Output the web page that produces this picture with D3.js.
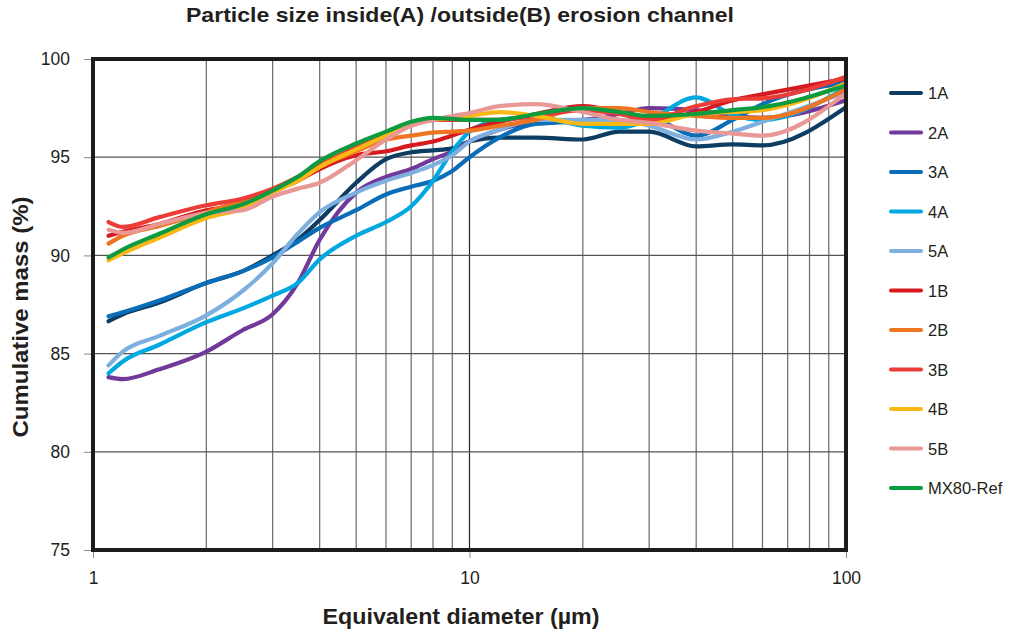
<!DOCTYPE html>
<html>
<head>
<meta charset="utf-8">
<script src="https://cdn.jsdelivr.net/npm/d3@7"></script>
<style>
  html, body { margin: 0; padding: 0; background: #fff; }
  svg { display: block; font-family: "Liberation Sans", Arial, sans-serif; }
</style>
</head>
<body>
<svg id="chart" width="1011" height="630"></svg>
<script>
// Particle sizes (µm) at which cumulative mass was sampled
const sizes = [1.1, 1.2, 1.5, 2, 2.5, 3, 3.5, 4, 5, 6, 7, 8, 9, 10, 12, 15, 20, 25, 30, 40, 50, 60, 100];

// Cumulative mass (%) per sample
const s1A  = [86.65, 87.0, 87.6, 88.6, 89.2, 90.0, 90.8, 91.8, 93.7, 94.9, 95.25, 95.35, 95.45, 95.8, 96.0, 96.0, 95.9, 96.3, 96.3, 95.55, 95.65, 95.6, 97.55];
const s2A  = [83.8, 83.7, 84.2, 85.1, 86.2, 87.0, 88.6, 90.8, 93.2, 94.0, 94.4, 94.9, 95.3, 95.8, 96.4, 96.8, 96.9, 97.2, 97.5, 97.4, 97.1, 97.0, 97.9];
const s3A  = [86.9, 87.1, 87.7, 88.6, 89.2, 89.9, 90.7, 91.4, 92.3, 93.1, 93.5, 93.8, 94.3, 95.0, 96.0, 96.7, 96.8, 96.8, 97.0, 96.1, 96.9, 97.7, 98.8];
const s4A  = [84.0, 84.6, 85.45, 86.6, 87.3, 87.95, 88.6, 89.8, 91.0, 91.7, 92.5, 93.8, 95.3, 96.3, 96.9, 97.05, 96.6, 96.5, 96.9, 98.05, 97.15, 96.9, 98.55];
const s5A  = [84.4, 85.1, 85.9, 86.95, 88.2, 89.6, 91.1, 92.2, 93.2, 93.8, 94.2, 94.6, 95.1, 95.8, 96.4, 96.9, 96.9, 96.9, 96.6, 95.9, 96.3, 96.8, 98.3];
const s1B  = [91.0, 91.2, 91.6, 92.3, 92.6, 93.3, 93.8, 94.4, 95.1, 95.3, 95.6, 95.8, 96.1, 96.4, 96.8, 97.2, 97.6, 97.3, 96.9, 97.3, 97.9, 98.2, 99.0];
const s2B  = [90.6, 91.0, 91.5, 92.2, 92.8, 93.3, 93.8, 94.5, 95.3, 95.9, 96.1, 96.25, 96.3, 96.35, 96.6, 96.9, 97.5, 97.5, 97.3, 97.1, 97.0, 97.0, 98.45];
const s3B  = [91.7, 91.45, 91.95, 92.55, 92.9, 93.4, 94.0, 94.6, 95.5, 96.2, 96.7, 96.9, 96.9, 96.9, 96.9, 97.1, 97.4, 97.2, 96.9, 97.6, 97.95, 98.0, 99.1];
const s4B  = [89.75, 90.1, 90.9, 91.9, 92.4, 93.2, 93.8, 94.5, 95.4, 96.1, 96.7, 96.9, 97.0, 97.1, 97.3, 97.1, 96.7, 96.7, 96.7, 97.2, 97.3, 97.4, 98.75];
const s5B  = [91.3, 91.15, 91.6, 92.15, 92.3, 93.0, 93.4, 93.7, 94.85, 95.9, 96.6, 96.9, 97.1, 97.25, 97.6, 97.7, 97.3, 96.9, 96.75, 96.35, 96.2, 96.1, 98.25];
const sMX  = [89.9, 90.3, 91.1, 92.1, 92.6, 93.3, 94.0, 94.8, 95.7, 96.3, 96.8, 97.0, 96.95, 96.9, 96.9, 97.2, 97.5, 97.3, 97.1, 97.2, 97.4, 97.55, 98.65];

const seriesNames = ["1A", "2A", "3A", "4A", "5A", "1B", "2B", "3B", "4B", "5B", "MX80-Ref"];
const seriesValues = [s1A, s2A, s3A, s4A, s5A, s1B, s2B, s3B, s4B, s5B, sMX];
const seriesColors = ["#0d3d62", "#70399a", "#0a6db8", "#00a8e1", "#7eb0df", "#d71a20", "#ee7521", "#ec3c37", "#fbb713", "#e99896", "#0d9b3f"];

const yTicks = [75, 80, 85, 90, 95, 100];
const xTicks = [1, 10, 100];
const xGrid = [2, 3, 4, 5, 6, 7, 8, 9, 10, 20, 30, 40, 50, 60, 70, 80, 90];

const svg = d3.select("#chart");
const plotLeft = 93, plotRight = 846, plotTop = 59, plotBottom = 550;

const x = d3.scaleLog().domain([1, 100]).range([plotLeft, plotRight]);
const y = d3.scaleLinear().domain([75, 100]).range([plotBottom, plotTop]);

// Title
svg.append("text")
  .attr("x", 460).attr("y", 22)
  .attr("text-anchor", "middle")
  .attr("font-size", 21).attr("font-weight", "bold").attr("fill", "#231f20")
  .attr("textLength", 548).attr("lengthAdjust", "spacingAndGlyphs")
  .text("Particle size inside(A) /outside(B) erosion channel");

// Gridlines
const grid = svg.append("g");
grid.selectAll("line.v").data(xGrid).join("line")
  .attr("x1", d => x(d)).attr("x2", d => x(d))
  .attr("y1", plotTop).attr("y2", plotBottom)
  .attr("stroke", d => (d === 10 ? "#222" : "#6a6a6a")).attr("stroke-width", 1.2);
grid.selectAll("line.h").data(yTicks.filter(d => d > 75 && d < 100)).join("line")
  .attr("x1", plotLeft).attr("x2", plotRight)
  .attr("y1", d => y(d)).attr("y2", d => y(d))
  .attr("stroke", "#555").attr("stroke-width", 1.2);

// Axes
const yAxis = svg.append("g").attr("transform", `translate(${plotLeft - 2},0)`)
  .call(d3.axisLeft(y).tickValues(yTicks).tickSize(7).tickPadding(14));
const xAxis = svg.append("g").attr("transform", `translate(0,${plotBottom + 2})`)
  .call(d3.axisBottom(x).tickValues(xTicks).tickFormat(d3.format("d")).tickSize(6).tickPadding(14));
[yAxis, xAxis].forEach(a => {
  a.select(".domain").remove();
  a.selectAll(".tick line").attr("stroke", "#888").attr("stroke-width", 1);
  a.selectAll(".tick text").attr("font-size", 17.5).attr("fill", "#231f20")
    .attr("font-family", "'Liberation Sans', Arial, sans-serif");
});

// Series lines
svg.append("clipPath").attr("id", "plotClip")
  .append("rect").attr("x", plotLeft).attr("y", plotTop)
  .attr("width", plotRight - plotLeft).attr("height", plotBottom - plotTop);

const line = d3.line()
  .x(d => x(d[0]))
  .y(d => y(d[1]))
  .curve(d3.curveMonotoneX);

const lines = svg.append("g").attr("clip-path", "url(#plotClip)");
seriesValues.forEach((vals, i) => {
  lines.append("path")
    .datum(sizes.map((s, j) => [s, vals[j]]))
    .attr("d", line)
    .attr("fill", "none")
    .attr("stroke", seriesColors[i])
    .attr("stroke-width", 4.2)
    .attr("stroke-linejoin", "round")
    .attr("stroke-linecap", "round");
});

// Plot frame
svg.append("rect")
  .attr("x", plotLeft).attr("y", plotTop)
  .attr("width", plotRight - plotLeft).attr("height", plotBottom - plotTop)
  .attr("fill", "none").attr("stroke", "#1c1c1c").attr("stroke-width", 4);

// Axis titles
svg.append("text")
  .attr("transform", "translate(28,317) rotate(-90)")
  .attr("text-anchor", "middle")
  .attr("font-size", 21.5).attr("font-weight", "bold").attr("fill", "#231f20")
  .attr("textLength", 241).attr("lengthAdjust", "spacingAndGlyphs")
  .text("Cumulative mass (%)");
svg.append("text")
  .attr("x", 461).attr("y", 624)
  .attr("text-anchor", "middle")
  .attr("font-size", 21.5).attr("font-weight", "bold").attr("fill", "#231f20")
  .attr("textLength", 277).attr("lengthAdjust", "spacingAndGlyphs")
  .text("Equivalent diameter (µm)");

// Legend
const legend = svg.append("g");
const rowY = d3.scaleLinear().domain([0, seriesNames.length - 1]).range([93, 488]);
seriesNames.forEach((name, i) => {
  const g = legend.append("g").attr("transform", `translate(0,${rowY(i)})`);
  g.append("line").attr("x1", 891).attr("x2", 921).attr("y1", 0).attr("y2", 0)
    .attr("stroke", seriesColors[i]).attr("stroke-width", 4).attr("stroke-linecap", "round");
  g.append("text").attr("x", 928).attr("y", 6)
    .attr("font-size", 16.5).attr("fill", "#231f20").text(name);
});
</script>
</body>
</html>
